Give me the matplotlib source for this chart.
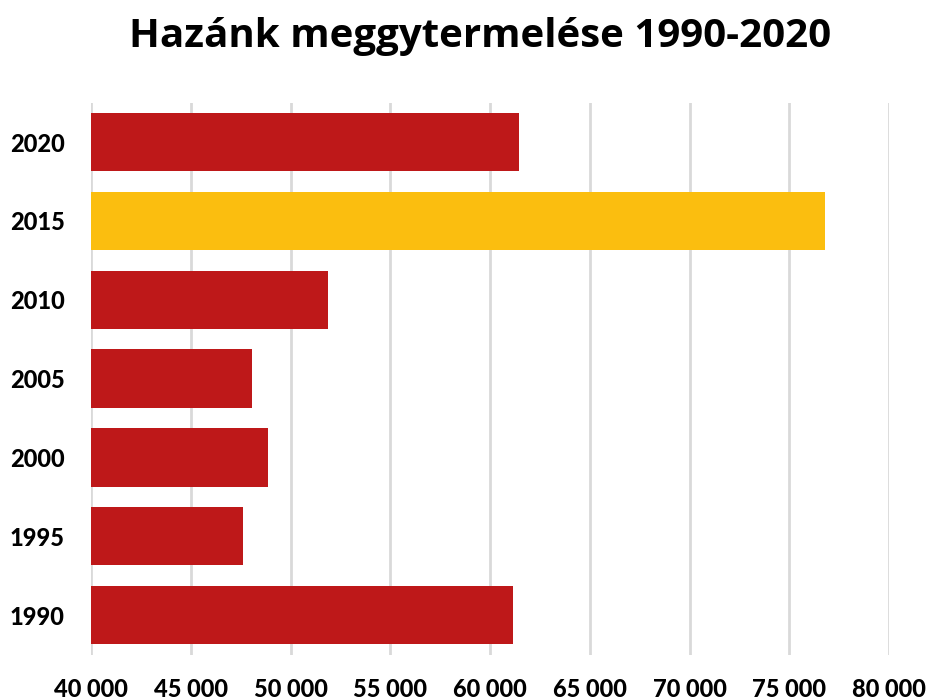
import matplotlib
matplotlib.use("Agg")
import matplotlib.pyplot as plt
from matplotlib.ticker import FuncFormatter

years = ["1990", "1995", "2000", "2005", "2010", "2015", "2020"]
values = [61150, 47600, 48880, 48050, 51900, 76770, 61450]
highlight_year = "2015"
title = "Hazánk meggytermelése 1990-2020"

red = "#BE1819"
yellow = "#FBBE0F"
colors = [yellow if y == highlight_year else red for y in years]

fig = plt.figure(figsize=(9.28, 7.0), dpi=100)
ax = fig.add_axes([91/928, 1 - 654.6/700, (889-91)/928, (654.6-102.6)/700])

ax.barh(range(len(years)), values, height=0.74, color=colors, left=0, zorder=3)
ax.set_xlim(40000, 80000)
ax.set_ylim(-0.5, len(years) - 0.5)
ax.set_yticks(range(len(years)))
ax.set_yticklabels(years)
ax.set_xticks(range(40000, 80001, 5000))
ax.xaxis.set_major_formatter(FuncFormatter(lambda v, p: f"{int(v):,}".replace(",", " ")))
ax.grid(axis="x", color="#d9d9d9", linewidth=2, zorder=0)
ax.set_axisbelow(True)
for s in ax.spines.values():
    s.set_visible(False)
ax.tick_params(axis="both", length=0)
ax.tick_params(axis="x", pad=17)
ax.tick_params(axis="y", pad=19)
for lab in ax.get_xticklabels() + ax.get_yticklabels():
    lab.set_fontfamily("Lato")
    lab.set_fontweight("black")
    lab.set_fontsize(17)

fig.text(480/928, 1 - 37/700, title, ha="center", va="center",
         fontsize=29, fontweight="bold", family="Open Sans")

fig.savefig("out.png", dpi=100)
